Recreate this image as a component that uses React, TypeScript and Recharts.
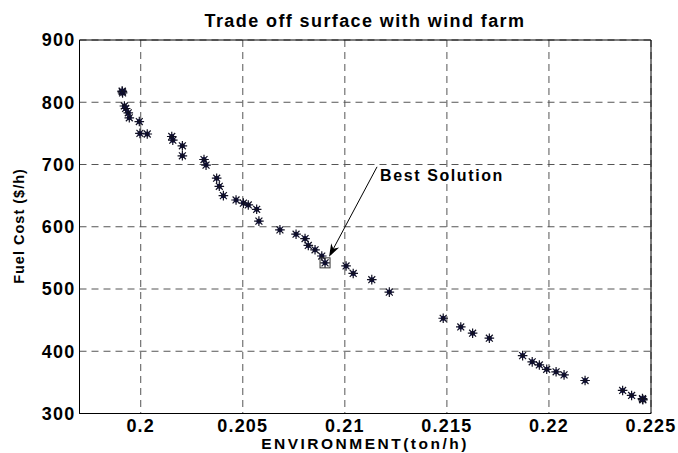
import React from 'react';
import { ScatterChart, Scatter, XAxis, YAxis, CartesianGrid, ReferenceArea } from 'recharts';

const envValues = [
  0.1991, 0.19911, 0.19909, 0.1992, 0.19926, 0.19939, 0.19944, 0.19993, 0.19996, 0.20032,
  0.20152, 0.20157, 0.20204, 0.20204, 0.2031, 0.2032, 0.20372, 0.20385, 0.20405, 0.20467,
  0.20503, 0.20527, 0.20568, 0.20579, 0.20682, 0.20761, 0.20805, 0.20821, 0.20854, 0.20887,
  0.20903, 0.21006, 0.21041, 0.21132, 0.21218, 0.21482, 0.21568, 0.21626, 0.21708, 0.21871,
  0.21918, 0.21953, 0.21989, 0.22035, 0.22074, 0.22177, 0.22361, 0.22405, 0.22459, 0.2246, 0.22458,
];
const costValues = [
  817, 815, 818, 794, 790, 783, 775, 769, 750, 749,
  745, 739, 730, 714, 708, 699, 678, 665, 650, 643,
  638, 635, 628, 609, 595, 588, 581, 570, 563, 553,
  542, 537, 525, 515, 495, 453, 439, 429, 421, 393,
  383, 378, 371, 367, 362, 353, 337, 329, 323, 322, 324,
];
const bestEnv = [0.20903];
const bestCost = [542];
const xTicks = [0.2, 0.205, 0.21, 0.215, 0.22, 0.225];
const yTicks = [300, 400, 500, 600, 700, 800, 900];
const xDomain = [0.197, 0.225];
const yDomain = [300, 900];
const titleText = 'Trade off surface with wind farm';
const xLabel = 'ENVIRONMENT(ton/h)';
const yLabel = 'Fuel Cost ($/h)';
const annotationText = 'Best Solution';

const points = envValues.map((x, i) => ({ x, y: costValues[i] }));
const bestPoints = bestEnv.map((x, i) => ({ x, y: bestCost[i] }));

const FONT = 'Liberation Sans, Arial, Helvetica, sans-serif';

const Star = (props: any) => {
  const { cx, cy } = props;
  if (cx == null || cy == null) return null;
  const r = 4.8;
  const d = r * 0.72;
  return (
    <g>
      <circle cx={cx} cy={cy} r={2.5} fill="#0b0b70" />
      <g stroke="#111122" strokeWidth={1.2}>
        <line x1={cx - r} y1={cy} x2={cx + r} y2={cy} />
        <line x1={cx} y1={cy - r} x2={cx} y2={cy + r} />
        <line x1={cx - d} y1={cy - d} x2={cx + d} y2={cy + d} />
        <line x1={cx - d} y1={cy + d} x2={cx + d} y2={cy - d} />
      </g>
    </g>
  );
};

const BestMark = (props: any) => {
  const { cx, cy } = props;
  if (cx == null || cy == null) return null;
  const sx = cx + 52;
  const sy = cy - 96;
  const tx = cx + 4;
  const ty = cy - 6;
  const dx = tx - sx;
  const dy = ty - sy;
  const len = Math.sqrt(dx * dx + dy * dy);
  const ux = dx / len;
  const uy = dy / len;
  const px = -uy;
  const py = ux;
  const hl = 13;
  const hw = 4.5;
  const bx = tx - ux * hl;
  const by = ty - uy * hl;
  const nx = tx - ux * hl * 0.7;
  const ny = ty - uy * hl * 0.7;
  return (
    <g>
      <rect x={cx - 5} y={cy - 5} width={10} height={10} fill="none" stroke="#333" strokeWidth={1} />
      <line x1={sx} y1={sy} x2={nx} y2={ny} stroke="#000" strokeWidth={1} />
      <polygon
        points={`${tx},${ty} ${bx + px * hw},${by + py * hw} ${nx},${ny} ${bx - px * hw},${by - py * hw}`}
        fill="#000"
      />
      <text
        x={cx + 55}
        y={cy - 87}
        dy="0.35em"
        fontFamily={FONT}
        fontWeight="bold"
        fontSize={16}
        letterSpacing={1.6}
        fill="#000"
      >
        {annotationText}
      </text>
    </g>
  );
};

const tickStyle = { fontFamily: FONT, fontWeight: 'bold', fontSize: 18, fill: '#000', letterSpacing: 1.2 };

export default function App() {
  return (
    <div style={{ position: 'absolute', left: 0, top: 0, width: 678, height: 453, background: '#fff' }}>
      <ScatterChart
        width={678}
        height={453}
        margin={{ top: 40, right: 27, bottom: 9.5, left: 19.5 }}
      >
        <CartesianGrid
          stroke="#555"
          strokeDasharray="7 5"
          strokeWidth={1}
          horizontalValues={yTicks}
          verticalValues={xTicks}
        />
        <XAxis
          type="number"
          dataKey="x"
          domain={xDomain}
          ticks={xTicks}
          allowDataOverflow
          height={30}
          tickLine={false}
          tickSize={6}
          tickMargin={0}
          axisLine={{ stroke: '#000' }}
          tick={tickStyle}
          tickFormatter={(v: number) => String(v)}
        />
        <YAxis
          type="number"
          dataKey="y"
          domain={yDomain}
          ticks={yTicks}
          allowDataOverflow
          width={60}
          tickLine={false}
          tickSize={4}
          tickMargin={0}
          axisLine={{ stroke: '#000' }}
          tick={tickStyle}
        />
        <ReferenceArea
          x1={xDomain[0]}
          x2={xDomain[1]}
          y1={yDomain[0]}
          y2={yDomain[1]}
          fill="none"
          stroke="#000"
          strokeWidth={1}
          fillOpacity={0}
        />
        <Scatter data={points} shape={Star} isAnimationActive={false} />
        <Scatter data={bestPoints} shape={BestMark} isAnimationActive={false} />
      </ScatterChart>
      <svg
        width={678}
        height={453}
        style={{ position: 'absolute', left: 0, top: 0, pointerEvents: 'none' }}
      >
        <text
          x={365}
          y={21}
          textAnchor="middle"
          dominantBaseline="central"
          fontFamily={FONT}
          fontWeight="bold"
          fontSize={18}
          letterSpacing={1.4}
          fill="#000"
        >
          {titleText}
        </text>
        <text
          x={365}
          y={443}
          textAnchor="middle"
          dominantBaseline="central"
          fontFamily={FONT}
          fontWeight="bold"
          fontSize={15.5}
          letterSpacing={2.5}
          fill="#000"
        >
          {xLabel}
        </text>
        <text
          x={19}
          y={226}
          textAnchor="middle"
          dominantBaseline="central"
          transform="rotate(-90 19 226)"
          fontFamily={FONT}
          fontWeight="bold"
          fontSize={14.5}
          letterSpacing={1}
          fill="#000"
        >
          {yLabel}
        </text>
      </svg>
    </div>
  );
}
